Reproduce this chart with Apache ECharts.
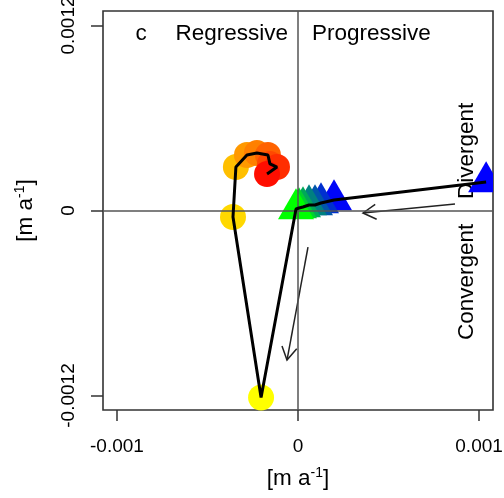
<!DOCTYPE html>
<html>
<head>
<meta charset="utf-8">
<script src="https://cdn.jsdelivr.net/npm/echarts@6.0.0/dist/echarts.min.js"></script>
<style>
  html, body { margin: 0; padding: 0; background: #ffffff; }
  #chart { width: 504px; height: 498px; }
</style>
</head>
<body>
<div id="chart"></div>
<script>
  // triangles (blue -> green), in path order
  var triX = [0.001039, 0.000199, 0.000127, 0.0000939, 0.0000608, 0.0000276, 0.0000055, -0.000011];
  var triY = [0.000185, 0.0000681, 0.0000486, 0.0000357, 0.0000357, 0.0000227, 0.0000162, 0.0000097];
  // circles (yellow -> red), in path order
  var circX = [-0.000204, -0.000359, -0.000343, -0.000282, -0.000227, -0.000166, -0.000155, -0.000116, -0.000171];
  var circY = [-0.001213, -0.0000422, 0.000282, 0.00036, 0.000373, 0.00036, 0.000302, 0.000282, 0.000237];
  // arrows: [x0, y0, x1, y1]
  var arrows = [
    [0.0000552, -0.000237, -0.0000608, -0.00097],
    [0.000867, 0.0000422, 0.000359, -0.0000162]
  ];
  var xTicks = [-0.001, 0, 0.001];
  var yTicks = [-0.0012, 0, 0.0012];

  var triColors = ['#0000FF', '#0006F8', '#0030CF', '#0055AA', '#008080', '#00A858', '#00D02E', '#00FF00'];
  var circColors = ['#FFFF00', '#FFD800', '#FFBF00', '#FF9900', '#FF8000', '#FF6200', '#FF4800', '#FF2E00', '#FF0E00'];

  var font = 'Liberation Sans';
  var pathData = [];
  triX.forEach(function (x, i) { pathData.push([x, triY[i]]); });
  circX.forEach(function (x, i) { pathData.push([x, circY[i]]); });

  var myChart = echarts.init(document.getElementById('chart'));
  var option = {
    animation: false,
    grid: {
      left: 103, right: 11, top: 11, bottom: 88,
      show: true, borderColor: '#333', borderWidth: 1.6,
      containLabel: false, outerBoundsMode: 'none'
    },
    xAxis: {
      type: 'value',
      min: -0.001077, max: 0.001077,
      splitLine: {show: false},
      axisLine: {show: false, onZero: false},
      axisTick: {show: true, length: 11, lineStyle: {color: '#333', width: 1.5}, customValues: xTicks},
      axisLabel: {
        customValues: xTicks, margin: 27, color: '#000', fontSize: 19, fontFamily: font,
        formatter: function (v) { return v === 0 ? '0' : v.toFixed(3); }
      },
      name: '{n|[m a}{s|-1}{n|]}',
      nameLocation: 'middle',
      nameGap: 56,
      nameTextStyle: {
        rich: {
          n: {fontSize: 22.5, fontFamily: font, color: '#000', lineHeight: 26},
          s: {fontSize: 14, fontFamily: font, color: '#000', verticalAlign: 'top', lineHeight: 26}
        }
      }
    },
    yAxis: {
      type: 'value',
      min: -0.001294, max: 0.001294,
      splitLine: {show: false},
      axisLine: {show: false, onZero: false},
      axisTick: {show: true, length: 12, lineStyle: {color: '#333', width: 1.5}, customValues: yTicks},
      axisLabel: {
        customValues: yTicks, margin: 25, rotate: 90, color: '#000', fontSize: 19, fontFamily: font,
        formatter: function (v) { return v === 0 ? '0' : v.toFixed(4); }
      },
      name: '{n|[m a}{s|-1}{n|]}',
      nameLocation: 'middle',
      nameGap: 64,
      nameTextStyle: {
        rich: {
          n: {fontSize: 22.5, fontFamily: font, color: '#000', lineHeight: 26},
          s: {fontSize: 14, fontFamily: font, color: '#000', verticalAlign: 'top', lineHeight: 26}
        }
      }
    },
    graphic: [
      {type: 'text', x: 141, y: 34, style: {text: 'c', font: '22.5px "' + font + '"', fill: '#000', align: 'center', verticalAlign: 'middle'}},
      {type: 'text', x: 288, y: 34, style: {text: 'Regressive', font: '22.5px "' + font + '"', fill: '#000', align: 'right', verticalAlign: 'middle'}},
      {type: 'text', x: 312, y: 34, style: {text: 'Progressive', font: '22.5px "' + font + '"', fill: '#000', align: 'left', verticalAlign: 'middle'}},
      {type: 'text', x: 467, y: 199, rotation: Math.PI / 2, style: {text: 'Divergent', font: '22.5px "' + font + '"', fill: '#000', align: 'left', verticalAlign: 'middle'}},
      {type: 'text', x: 467, y: 340, rotation: Math.PI / 2, style: {text: 'Convergent', font: '22.5px "' + font + '"', fill: '#000', align: 'left', verticalAlign: 'middle'}}
    ],
    series: [
      {
        // zero reference lines
        type: 'line',
        data: [],
        z: 1,
        markLine: {
          silent: true,
          symbol: 'none',
          label: {show: false},
          lineStyle: {color: '#555', width: 1.5, type: 'solid'},
          data: [{xAxis: 0}, {yAxis: 0}]
        }
      },
      {
        type: 'custom',
        clip: true,
        z: 3,
        data: triX.map(function (x, i) { return [x, triY[i]]; }),
        renderItem: function (params, api) {
          var p = api.coord([api.value(0), api.value(1)]);
          var h = 31, w = 36;
          return {
            type: 'polygon',
            shape: {points: [[p[0], p[1] - 2 * h / 3], [p[0] - w / 2, p[1] + h / 3], [p[0] + w / 2, p[1] + h / 3]]},
            style: {fill: triColors[params.dataIndex]}
          };
        }
      },
      {
        type: 'scatter',
        z: 3,
        symbol: 'circle',
        symbolSize: 26,
        data: circX.map(function (x, i) {
          return {value: [x, circY[i]], itemStyle: {color: circColors[i], opacity: 1}};
        })
      },
      {
        type: 'line',
        z: 5,
        data: pathData,
        showSymbol: false,
        symbol: 'none',
        lineStyle: {color: '#000', width: 3}
      },
      {
        type: 'custom',
        z: 4,
        data: arrows,
        renderItem: function (params, api) {
          var a = api.coord([api.value(0), api.value(1)]);
          var b = api.coord([api.value(2), api.value(3)]);
          var ang = Math.atan2(b[1] - a[1], b[0] - a[0]);
          var len = 15, spread = Math.PI / 6;
          var w1 = [b[0] - len * Math.cos(ang - spread), b[1] - len * Math.sin(ang - spread)];
          var w2 = [b[0] - len * Math.cos(ang + spread), b[1] - len * Math.sin(ang + spread)];
          var st = {stroke: '#222', lineWidth: 1.5, fill: null};
          return {
            type: 'group',
            children: [
              {type: 'line', shape: {x1: a[0], y1: a[1], x2: b[0], y2: b[1]}, style: st},
              {type: 'polyline', shape: {points: [w1, b, w2]}, style: st}
            ]
          };
        }
      }
    ]
  };
  myChart.setOption(option);
</script>
</body>
</html>
